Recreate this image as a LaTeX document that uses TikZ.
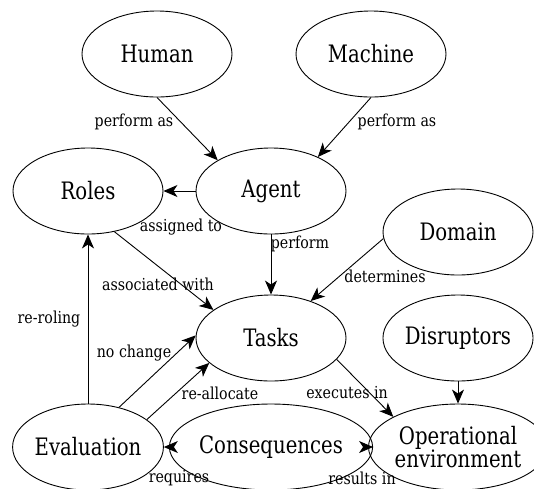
\documentclass[tikz,border=0pt]{standalone}
\usepackage{fontspec}
\setmainfont{DejaVu Serif}
\newfontfamily\nodefont{DejaVu Serif}[FakeStretch=0.82]
\newfontfamily\lblfont{DejaVu Serif}[FakeStretch=0.86]
\usetikzlibrary{shapes.geometric,arrows.meta}
\begin{document}
\begin{tikzpicture}[x=1pt,y=-1pt,
  concept/.style={draw,ellipse,line width=0.9pt,minimum width=150pt,minimum height=86pt,inner sep=0pt,
    font=\nodefont\fontsize{24}{18}\selectfont,align=center},
  lbl/.style={inner sep=0pt,font=\lblfont\fontsize{16.5}{18}\selectfont},
  arr/.style={draw,line width=0.9pt,-{Stealth[length=14pt,width=12pt,inset=4pt]}}]
\useasboundingbox (0,0) rectangle (534,488);
\node[concept] (human) at (157,54) {Human};
\node[concept] (machine) at (371,54) {Machine};
\node[concept] (agent) at (271,191) {Agent};
\node[concept] (roles) at (88,191) {Roles};
\node[concept] (domain) at (458,232) {Domain};
\node[concept] (tasks) at (271,338) {Tasks};
\node[concept] (disruptors) at (458,338) {Disruptors};
\node[concept] (eval) at (88,447) {Evaluation};
\node[concept] (conseq) at (271,447) {Consequences};
\node[concept] (openv) at (458,447) {Operational\\environment};

\draw[arr] (human.south) -- (agent.150);
\draw[arr] (machine.south) -- (agent.36);
\draw[arr] (agent.west) -- (roles.east);
\draw[arr] (agent.south) -- (tasks.north);
\draw[arr] (roles.-57) -- (tasks.154);
\draw[arr] (domain.185) -- (tasks.43);
\draw[arr] (tasks.-18) -- (openv.155);
\draw[arr] (disruptors.south) -- (openv.north);
\draw[arr] (openv.west) -- (conseq.east);
\draw[arr] (conseq.west) -- (eval.east);
\draw[arr] (eval.north) -- (roles.south);
\draw[arr] (eval.52) -- (tasks.178);
\draw[arr] (eval.25) -- (tasks.202);

\node[lbl] (l1) at (134,122) {perform as};
\node[lbl] (l2) at (397,122) {perform as};
\node[lbl] (l3) at (181,227) {assigned to};
\node[lbl] (l4) at (300,244) {perform};
\node[lbl] (l5) at (158,284) {associated with};
\node[lbl] (l6) at (385,276) {determines};
\node[lbl] (l7) at (49,319) {re-roling};
\node[lbl] (l8) at (134,353) {no change};
\node[lbl] (l9) at (220,393) {re-allocate};
\node[lbl] (l10) at (347,393) {executes in};
\node[lbl] (l11) at (179,478) {requires};
\node[lbl] (l12) at (362,478) {results in};
\end{tikzpicture}
\end{document}
